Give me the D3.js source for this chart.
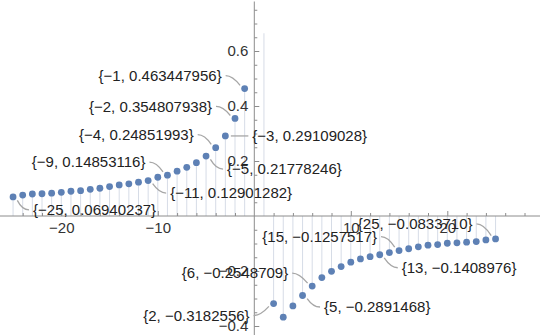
<!DOCTYPE html>
<html>
<head>
<meta charset="utf-8">
<script src="https://cdnjs.cloudflare.com/ajax/libs/d3/7.8.5/d3.min.js"></script>
<style>
  body { margin: 0; background: #fff; }
  svg { display: block; font-family: "Liberation Sans", Arial, sans-serif; }
  .tick text { fill: #333; font-size: 15px; }
  .tick line { stroke: #8c8c8c; }
  .callout { fill: #222; font-size: 15px; }
</style>
</head>
<body>
<svg id="chart"></svg>
<script>
// ---- data ----
var negX = [-25, -24, -23, -22, -21, -20, -19, -18, -17, -16, -15, -14, -13,
            -12, -11, -10, -9, -8, -7, -6, -5, -4, -3, -2, -1];
var negY = [0.0694, 0.076, 0.080, 0.081, 0.083, 0.086, 0.090, 0.092, 0.097,
            0.101, 0.107, 0.113, 0.117, 0.123, 0.129, 0.141, 0.1485, 0.163,
            0.177, 0.194, 0.2178, 0.2485, 0.2911, 0.3548, 0.4634];

// x = 1 sits above the plot range, only its filling shows
var posX = [1, 2, 3, 4, 5, 6, 7, 8, 9, 10, 11, 12, 13,
            14, 15, 16, 17, 18, 19, 20, 21, 22, 23, 24, 25];
var posY = [0.9, -0.3183, -0.368, -0.327, -0.2891, -0.2549, -0.224, -0.201,
            -0.184, -0.168, -0.156, -0.148, -0.1409, -0.133, -0.1258, -0.119,
            -0.112, -0.106, -0.104, -0.099, -0.0975, -0.095, -0.093, -0.087,
            -0.0834];

var xMajor = [-20, -10, 10, 20];
var xMinor = [-24, -22, -18, -16, -14, -12, -8, -6, -4, -2, 2, 4, 6, 8,
              12, 14, 16, 18, 22, 24, 26, 28];
var yMajor = [-0.4, -0.2, 0.2, 0.4, 0.6];
var yMinor = [-0.45, -0.35, -0.3, -0.25, -0.15, -0.1, -0.05, 0.05, 0.1,
              0.15, 0.25, 0.3, 0.35, 0.45, 0.5, 0.55, 0.65, 0.7, 0.75];

var calloutX = [-1, -2, -4, -9, -3, -5, -11, -25, 2, 6, 5, 13, 15, 25];
var calloutText = ["{−1, 0.463447956}", "{−2, 0.354807938}", "{−4, 0.24851993}",
  "{−9, 0.14853116}", "{−3, 0.29109028}", "{−5, 0.21778246}",
  "{−11, 0.12901282}", "{−25, 0.06940237}", "{2, −0.3182556}",
  "{6, −0.2548709}", "{5, −0.2891468}", "{13, −0.1408976}",
  "{15, −0.1257517}", "{25, −0.0833710}"];

// ---- layout ----
var width = 540;
var height = 335;
var yTop = 0.665;   // plot range cut for the filling

// label placement relative to its point (pixels)
var calloutPos = {
  "-1":  {dx: -23, dy: -13}, "-2": {dx: -23, dy: -12}, "-4": {dx: -22, dy: -13},
  "-9":  {dx: -22, dy: -13}, "-3": {dx: 27, dy: 0},    "-5": {dx: 21, dy: 13},
  "-11": {dx: 22, dy: 12.5}, "-25": {dx: 20, dy: 13},  "2": {dx: -24, dy: 12},
  "6":   {dx: -24, dy: -13}, "5": {dx: 21.5, dy: 11.5}, "13": {dx: 22, dy: 13},
  "15":  {dx: -22, dy: -14}, "25": {dx: -23, dy: -15}
};

var x = d3.scaleLinear().domain([-25, 25]).range([13.05, 495.55]);
var y = d3.scaleLinear().domain([0.6, -0.4]).range([51, 326]);

var points = negX.map((v, i) => ({x: v, y: negY[i]}))
  .concat(posX.map((v, i) => ({x: v, y: posY[i]})));

var svg = d3.select("#chart")
  .attr("width", width)
  .attr("height", height);

svg.append("defs").append("clipPath")
  .attr("id", "plot")
  .append("rect")
  .attr("x", 0)
  .attr("y", y(yTop))
  .attr("width", width)
  .attr("height", height - y(yTop));

// filling to the axis
svg.append("g")
  .attr("clip-path", "url(#plot)")
  .selectAll("line")
  .data(points)
  .enter()
  .append("line")
    .attr("x1", d => x(d.x))
    .attr("x2", d => x(d.x))
    .attr("y1", y(0))
    .attr("y2", d => y(d.y))
    .attr("stroke", "#8a9bb8")
    .attr("stroke-opacity", 0.35)
    .attr("stroke-width", 1);

// axes
var xAxisG = svg.append("g").attr("transform", "translate(0," + y(0) + ")");
xAxisG.append("g")
  .call(d3.axisBottom(x).tickValues(xMinor).tickSize(-3).tickFormat(""))
  .call(g => g.select(".domain").remove());
xAxisG.append("g")
  .call(d3.axisBottom(x).tickValues(xMajor).tickSize(-5).tickPadding(6)
          .tickFormat(d3.format("d")))
  .call(g => g.select(".domain").remove());
xAxisG.append("line")
  .attr("x1", 0).attr("x2", width)
  .attr("stroke", "#8c8c8c");

var yAxisG = svg.append("g").attr("transform", "translate(" + x(0) + ",0)");
yAxisG.append("g")
  .call(d3.axisLeft(y).tickValues(yMinor).tickSize(-3).tickFormat(""))
  .call(g => g.select(".domain").remove());
yAxisG.append("g")
  .call(d3.axisLeft(y).tickValues(yMajor).tickSize(-5).tickPadding(6)
          .tickFormat(d3.format(".1f")))
  .call(g => g.select(".domain").remove());
yAxisG.append("line")
  .attr("y1", 1.5).attr("y2", height)
  .attr("stroke", "#8c8c8c");

svg.selectAll(".tick text").attr("font-family", null).attr("font-size", null);

// points
svg.append("g")
  .attr("clip-path", "url(#plot)")
  .selectAll("circle")
  .data(points)
  .enter()
  .append("circle")
    .attr("cx", d => x(d.x))
    .attr("cy", d => y(d.y))
    .attr("r", 3.4)
    .attr("fill", "#5E81B5");

// callouts
var callouts = calloutX.map((v, i) => {
  var p = points.find(d => d.x === v);
  var pos = calloutPos[v];
  return {px: x(p.x), py: y(p.y), tx: x(p.x) + pos.dx, ty: y(p.y) + pos.dy,
          left: pos.dx < 0, text: calloutText[i]};
});

svg.append("g")
  .selectAll("path")
  .data(callouts)
  .enter()
  .append("path")
    .attr("d", d => {
      var sx = d.tx + (d.left ? 4 : -4);
      var sy = d.ty;
      var vx = sx - d.px, vy = sy - d.py;
      var len = Math.sqrt(vx * vx + vy * vy);
      var ex = d.px + vx / len * 5.5;
      var ey = d.py + vy / len * 5.5;
      var cx = sx + (d.left ? 7 : -7);
      return "M" + sx + "," + sy + "Q" + cx + "," + sy + " " + ex + "," + ey;
    })
    .attr("fill", "none")
    .attr("stroke", "#a6a6a6")
    .attr("stroke-width", 1.3);

svg.append("g")
  .selectAll("text")
  .data(callouts)
  .enter()
  .append("text")
    .classed("callout", true)
    .attr("x", d => d.tx)
    .attr("y", d => d.ty)
    .attr("dy", "0.35em")
    .attr("text-anchor", d => d.left ? "end" : "start")
    .text(d => d.text);
</script>
</body>
</html>
